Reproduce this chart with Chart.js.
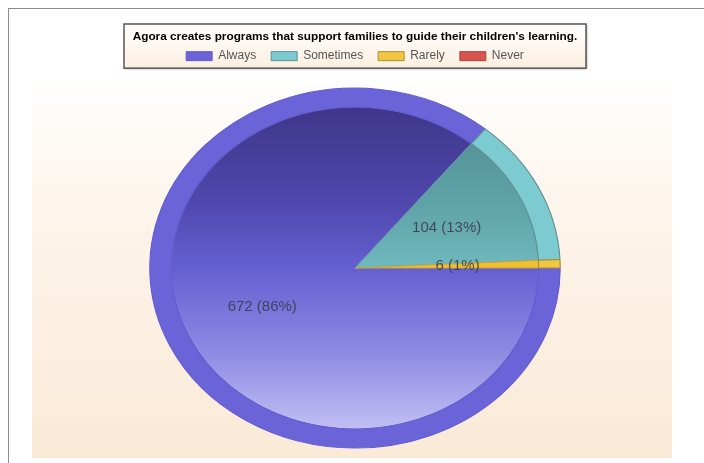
<!DOCTYPE html>
<html>
<head>
<meta charset="utf-8">
<script src="https://cdn.jsdelivr.net/npm/chart.js@4.4.1/dist/chart.umd.min.js"></script>
<style>
  html, body { margin: 0; padding: 0; background: #fff; overflow: hidden; }
  #frame {
    position: absolute; left: 8px; top: 8px; width: 720px; height: 480px;
    border-top: 1px solid #8c8c8c; border-left: 1px solid #8c8c8c; overflow: hidden;
  }
  #frame canvas { display: block; }
</style>
</head>
<body>
<div id="frame"><canvas id="pie" width="695" height="470"></canvas></div>
<script>
// ── DATA ──
const TITLE = "Agora creates programs that support families to guide their children's learning.";
const categories = ['Always', 'Sometimes', 'Rarely', 'Never'];
const counts = [672, 104, 6, 0];

// ── STYLE ──
const RIM = ['#6a64d8', '#7ccbd0', '#f3c641', '#d9534f'];
const EDGE = ['#625cce', '#5d8f92', '#a88c36', '#a84242'];
const SEP = ['#6a64d8', '#639fa3', '#c8a030', '#c04a46'];
const INNER = [
  [[0, '#3f3689'], [0.3, '#5048ad'], [0.5, '#6560d2'], [0.75, '#8c88e2'], [1, '#c2bff4']],
  [[0, '#4f8c91'], [0.3, '#5fa2a7'], [0.5, '#6fb9be'], [0.75, '#8ccdd1'], [1, '#a8e0e3']],
  [[0, '#d6a51e'], [0.5, '#f0c030'], [1, '#f8dc80']],
  [[0, '#a83a36'], [0.5, '#d9534f'], [1, '#eca09d']]
];
const PIE_R = 180;
const STRETCH = 1.14;   // pie is drawn as an ellipse, wider than tall

function innerFill(c) {
  const chart = c.chart, a = chart.chartArea;
  if (!a) return RIM[c.dataIndex];
  const cy = (a.top + a.bottom) / 2;
  const g = chart.ctx.createLinearGradient(0, cy - PIE_R * 0.9, 0, cy + PIE_R * 0.9);
  INNER[c.dataIndex].forEach(([p, col]) => g.addColorStop(p, col));
  return g;
}

// plot panel + framed title/legend box
const backdrop = {
  id: 'backdrop',
  beforeDraw(chart) {
    const { ctx, chartArea: a } = chart;
    const cx = (a.left + a.right) / 2, cy = (a.top + a.bottom) / 2;
    const top = cy - PIE_R - 4, bot = cy + PIE_R + 10;
    ctx.save();
    const g = ctx.createLinearGradient(0, top, 0, bot);
    g.addColorStop(0, '#fffefd');
    g.addColorStop(0.4, '#fdf3e9');
    g.addColorStop(1, '#faead7');
    ctx.fillStyle = g;
    ctx.fillRect(cx - 323, top, 640, bot - top);

    const t = chart.titleBlock, hb = chart.legend.legendHitBoxes[0];
    const tc = (t.left + t.right) / 2;
    const fTop = t.top + 15, fBot = hb.top + hb.height + 6;
    const fg = ctx.createLinearGradient(0, fTop, 0, fBot);
    fg.addColorStop(0, '#ffffff');
    fg.addColorStop(1, '#fcefe0');
    ctx.shadowColor = 'rgba(0,0,0,0.35)';
    ctx.shadowOffsetX = 1; ctx.shadowOffsetY = 1; ctx.shadowBlur = 2;
    ctx.fillStyle = fg;
    ctx.fillRect(tc - 231, fTop, 462, fBot - fTop);
    ctx.shadowColor = 'transparent';
    ctx.strokeStyle = '#555';
    ctx.lineWidth = 1.5;
    ctx.strokeRect(tc - 231, fTop, 462, fBot - fTop);
    ctx.restore();
  }
};

// squash the round pie into an ellipse, then write the value labels
const ellipse = {
  id: 'ellipse',
  beforeDatasetsDraw(chart) {
    const { ctx } = chart;
    const arc = chart.getDatasetMeta(0).data[0];
    ctx.save();
    ctx.translate(arc.x, 0);
    ctx.scale(STRETCH, 1);
    ctx.translate(-arc.x, 0);
  },
  afterDatasetsDraw(chart) {
    const { ctx } = chart;
    ctx.restore();
    const total = counts.reduce((s, v) => s + v, 0);
    ctx.save();
    ctx.font = '15px "Liberation Sans", Arial, sans-serif';
    ctx.fillStyle = 'rgba(55,58,72,0.85)';
    ctx.textAlign = 'center';
    ctx.textBaseline = 'middle';
    chart.getDatasetMeta(0).data.forEach((arc, i) => {
      if (!counts[i]) return;
      const { x, y, startAngle, endAngle, outerRadius } =
        arc.getProps(['x', 'y', 'startAngle', 'endAngle', 'outerRadius'], true);
      const mid = (startAngle + endAngle) / 2, r = outerRadius * 0.5;
      ctx.fillText(`${counts[i]} (${Math.round(counts[i] / total * 100)}%)`,
        x + Math.cos(mid) * r * STRETCH, y + Math.sin(mid) * r);
    });
    ctx.restore();
  }
};

new Chart(document.getElementById('pie'), {
  type: 'pie',
  data: {
    labels: categories,
    datasets: [
      { data: counts, backgroundColor: RIM, borderColor: EDGE, borderWidth: 1, weight: 1 },
      { data: counts, backgroundColor: innerFill, borderColor: SEP, borderWidth: 0.8, weight: 8.5 }
    ]
  },
  options: {
    responsive: false,
    animation: false,
    events: [],
    rotation: 90,
    radius: PIE_R,
    layout: { padding: { top: 0, left: 0, right: 3, bottom: 15 } },
    plugins: {
      title: {
        display: true,
        text: TITLE,
        color: '#000',
        font: { family: '"Liberation Sans", Arial, sans-serif', size: 11.8, weight: 'bold' },
        padding: { top: 21, bottom: -9 }
      },
      legend: {
        position: 'top',
        labels: {
          boxWidth: 26,
          boxHeight: 9,
          padding: 15,
          color: '#555',
          font: { family: '"Liberation Sans", Arial, sans-serif', size: 12 }
        }
      },
      tooltip: { enabled: false }
    }
  },
  plugins: [backdrop, ellipse]
});
</script>
</body>
</html>
